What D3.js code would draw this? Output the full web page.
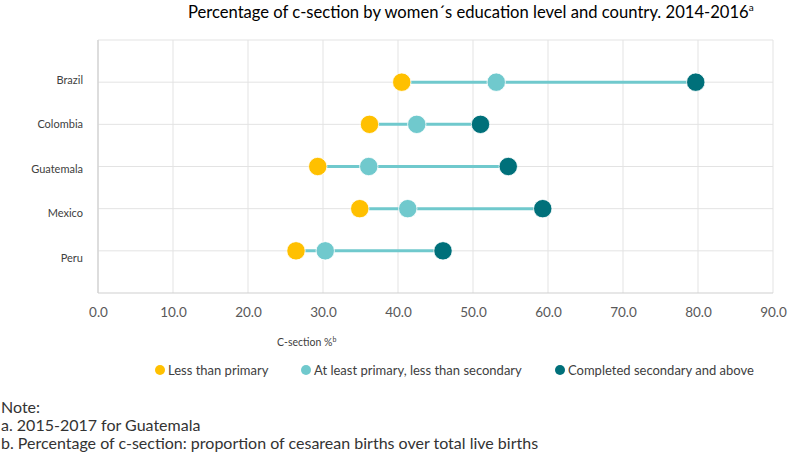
<!DOCTYPE html>
<html>
<head>
<meta charset="utf-8">
<script src="https://cdn.jsdelivr.net/npm/d3@7"></script>
<style>
  body { margin: 0; background: #fff; }
  svg { display: block; font-family: Lato, "Open Sans", sans-serif; }
</style>
</head>
<body>
<svg id="chart" width="789" height="460"></svg>
<script>
const countries = ["Brazil", "Colombia", "Guatemala", "Mexico", "Peru"];
const lessThanPrimary = [40.5, 36.2, 29.3, 34.9, 26.4];
const atLeastPrimary = [53.1, 42.5, 36.1, 41.3, 30.3];
const completedSecondary = [79.7, 51.0, 54.7, 59.3, 46.0];
const xTicks = [0, 10, 20, 30, 40, 50, 60, 70, 80, 90];
const seriesNames = ["Less than primary", "At least primary, less than secondary", "Completed secondary and above"];
const seriesColors = ["#FFC000", "#70C9CD", "#00707A"];
const notes = ["Note:", "a. 2015-2017 for Guatemala", "b. Percentage of c-section: proportion of cesarean births over total live births"];

const svg = d3.select("#chart");
const pLeft = 98, pRight = 773, pTop = 40, pBottom = 293;

const x = d3.scaleLinear().domain([0, 90]).range([pLeft, pRight]);
const y = d3.scaleLinear().domain([0, 6]).range([pBottom, pTop]);
const yVal = i => countries.length - i;
const yLabel = d3.scalePoint().domain(countries).range([80, 258]);

// gridlines
const grid = svg.append("g");
grid.selectAll("line.v").data(xTicks).join("line")
  .attr("x1", d => x(d)).attr("x2", d => x(d))
  .attr("y1", pTop).attr("y2", pBottom)
  .attr("stroke", "#e3e3e3").attr("stroke-width", 1);
grid.selectAll("line.h").data(d3.range(1, 7)).join("line")
  .attr("x1", pLeft).attr("x2", pRight)
  .attr("y1", d => y(d)).attr("y2", d => y(d))
  .attr("stroke", "#e3e3e3").attr("stroke-width", 1);
grid.append("line").attr("x1", pLeft).attr("x2", pRight).attr("y1", pBottom).attr("y2", pBottom)
  .attr("stroke", "#d0d0d0").attr("stroke-width", 1.2);
grid.append("line").attr("x1", pLeft).attr("x2", pLeft).attr("y1", pTop).attr("y2", pBottom)
  .attr("stroke", "#d0d0d0").attr("stroke-width", 1.2);

// x axis labels
const xAxis = d3.axisBottom(x).tickValues(xTicks).tickFormat(d3.format(".1f")).tickSize(0).tickPadding(14);
const gx = svg.append("g").attr("transform", `translate(0,${pBottom})`).call(xAxis);
gx.select(".domain").remove();
gx.selectAll("text").attr("fill", "#595959").style("font-size", "13.5px").style("font-family", "Lato, sans-serif");

// y labels
svg.append("g").selectAll("text").data(countries).join("text")
  .attr("x", 83).attr("y", d => yLabel(d)).attr("dy", "0.35em")
  .attr("text-anchor", "end").attr("fill", "#404040").style("font-size", "11px")
  .text(d => d);

// connecting lines
const rows = countries.map((c, i) => ({ c, i, v: [lessThanPrimary[i], atLeastPrimary[i], completedSecondary[i]] }));
svg.append("g").selectAll("line").data(rows).join("line")
  .attr("x1", d => x(d3.min(d.v))).attr("x2", d => x(d3.max(d.v)))
  .attr("y1", d => y(yVal(d.i))).attr("y2", d => y(yVal(d.i)))
  .attr("stroke", "#70C9CD").attr("stroke-width", 3);

// dots
const series = [lessThanPrimary, atLeastPrimary, completedSecondary];
series.forEach((s, k) => {
  svg.append("g").selectAll("circle").data(s).join("circle")
    .attr("cx", d => x(d)).attr("cy", (d, i) => y(yVal(i)))
    .attr("r", 9.2).attr("fill", seriesColors[k]).attr("stroke", "#fff").attr("stroke-width", 0.8);
});

// title
const title = svg.append("text").attr("x", 188).attr("y", 18).attr("fill", "#000").style("font-size", "16.6px");
title.append("tspan").text("Percentage of c-section by women\u00b4s education level and country. 2014-2016");
title.append("tspan").attr("dy", -7).style("font-size", "10px").text("a");

// axis title
const at = svg.append("text").attr("x", 277).attr("y", 346).attr("fill", "#404040").style("font-size", "10.5px");
at.append("tspan").text("C-section %");
at.append("tspan").attr("dy", -4).style("font-size", "7px").text("b");

// legend
const legendX = [160, 306, 560];
const lg = svg.append("g");
seriesNames.forEach((n, k) => {
  lg.append("circle").attr("cx", legendX[k]).attr("cy", 370).attr("r", 5).attr("fill", seriesColors[k]);
  lg.append("text").attr("x", legendX[k] + 8).attr("y", 370).attr("dy", "0.35em")
    .attr("fill", "#404040").style("font-size", "13px").text(n);
});

// notes
svg.append("g").selectAll("text").data(notes).join("text")
  .attr("x", 1).attr("y", (d, i) => 413 + i * 18)
  .attr("fill", "#333").style("font-size", "16px").text(d => d);
</script>
</body>
</html>
